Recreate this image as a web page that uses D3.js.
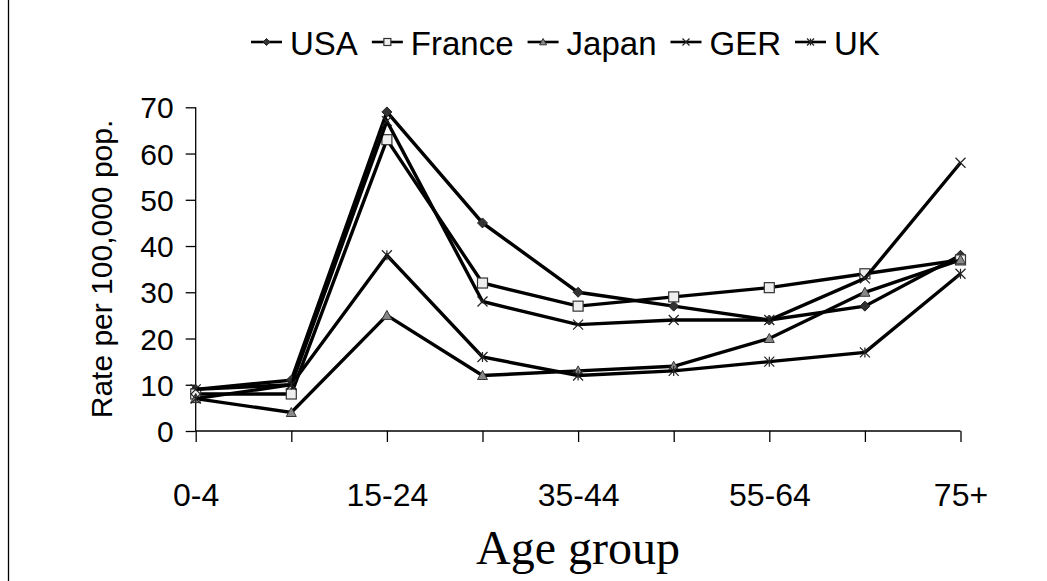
<!DOCTYPE html>
<html><head><meta charset="utf-8">
<script src="https://cdn.jsdelivr.net/npm/d3@7"></script>
<style>body{margin:0;background:#fff}svg{display:block}</style>
</head><body>
<svg id="c" width="1047" height="581"></svg>
<script>
const categories = ["0-4","5-14","15-24","25-34","35-44","45-54","55-64","65-74","75+"];
const shownLabels = ["0-4","15-24","35-44","55-64","75+"];
const seriesNames = ["USA","France","Japan","GER","UK"];
const usa    = [9, 11, 69, 45, 30, 27, 24, 27, 38];
const france = [8, 8, 63, 32, 27, 29, 31, 34, 37];
const japan  = [7, 4, 25, 12, 13, 14, 20, 30, 37];
const ger    = [9, 10, 67, 28, 23, 24, 24, 33, 58];
const uk     = [7, 10, 38, 16, 12, 13, 15, 17, 34];
const yTicks = [0,10,20,30,40,50,60,70];
const yTitle = "Rate per 100,000 pop.";
const xTitle = "Age group";

const seriesVals = [usa, france, japan, ger, uk];
const markers = ["diamond","square","triangle","x","star"];

const svg = d3.select("#c");
const x = d3.scalePoint().domain(categories).range([195.7, 960.5]);
const y = d3.scaleLinear().domain([0,70]).range([431, 107.3]);

// left border line
svg.append("line").attr("x1",8.5).attr("x2",8.5).attr("y1",0).attr("y2",581).attr("stroke","#000").attr("stroke-width",1.3);

// y axis
const yAxis = d3.axisLeft(y).tickValues(yTicks).tickSize(10).tickPadding(12).tickFormat(d3.format("d"));
const gy = svg.append("g").attr("transform","translate(195.7,0)").call(yAxis);
gy.select(".domain").attr("stroke","#000").attr("stroke-width",1.3).attr("d","M0,107.3V431");
gy.selectAll(".tick line").attr("stroke","#000").attr("stroke-width",1.3);
gy.selectAll(".tick text").attr("font-family","Liberation Sans, Arial, sans-serif").attr("font-size",30).attr("fill","#000").attr("dy","0.35em");

// x axis
const xAxis = d3.axisBottom(x).tickSize(11).tickPadding(41).tickFormat(d => shownLabels.includes(d) ? d : "");
const gx = svg.append("g").attr("transform","translate(0,431)").call(xAxis);
gx.select(".domain").attr("stroke","#000").attr("stroke-width",1.3).attr("d","M195.7,0H960.5");
gx.selectAll(".tick line").attr("stroke","#000").attr("stroke-width",1.3);
gx.selectAll(".tick text").attr("font-family","Liberation Sans, Arial, sans-serif").attr("font-size",32).attr("fill","#000");

// titles
svg.append("text").attr("transform","translate(112,269) rotate(-90)").attr("text-anchor","middle")
  .attr("font-family","Liberation Sans, Arial, sans-serif").attr("font-size",30).text(yTitle);
svg.append("text").attr("x",578).attr("y",564).attr("text-anchor","middle")
  .attr("font-family","Liberation Serif, Times New Roman, serif").attr("font-size",48).text(xTitle);

function drawMarker(g, type, cx, cy, s) {
  if (type === "diamond") {
    g.append("path").attr("d",`M${cx},${cy-s}L${cx+s},${cy}L${cx},${cy+s}L${cx-s},${cy}Z`)
      .attr("fill","#333").attr("stroke","#222").attr("stroke-width",1);
  } else if (type === "square") {
    g.append("rect").attr("x",cx-s).attr("y",cy-s).attr("width",2*s).attr("height",2*s)
      .attr("fill","#eee").attr("stroke","#333").attr("stroke-width",1.2);
  } else if (type === "triangle") {
    g.append("path").attr("d",`M${cx},${cy-s}L${cx+s},${cy+s*0.8}L${cx-s},${cy+s*0.8}Z`)
      .attr("fill","#888").attr("stroke","#333").attr("stroke-width",1);
  } else if (type === "x") {
    g.append("path").attr("d",`M${cx-s},${cy-s}L${cx+s},${cy+s}M${cx-s},${cy+s}L${cx+s},${cy-s}`)
      .attr("stroke","#222").attr("stroke-width",1.2).attr("fill","none");
  } else {
    g.append("path").attr("d",`M${cx-s},${cy-s}L${cx+s},${cy+s}M${cx-s},${cy+s}L${cx+s},${cy-s}M${cx},${cy-s}L${cx},${cy+s}`)
      .attr("stroke","#222").attr("stroke-width",1.2).attr("fill","none");
  }
}
const msize = {diamond:5, square:5, triangle:5, x:5, star:5};

const line = d3.line().x((d,i)=>x(categories[i])).y(d=>y(d));
seriesVals.forEach((vals, si) => {
  const g = svg.append("g");
  g.append("path").attr("d", line(vals)).attr("fill","none").attr("stroke","#000").attr("stroke-width",3.4).attr("stroke-linejoin","miter");
  vals.forEach((v,i) => drawMarker(g, markers[si], x(categories[i]), y(v), msize[markers[si]]));
});

// legend
const lg = svg.append("g");
let lx = 251;
const ly = 42;
seriesNames.forEach((name, si) => {
  lg.append("line").attr("x1",lx).attr("x2",lx+31).attr("y1",ly).attr("y2",ly).attr("stroke","#000").attr("stroke-width",2.6);
  drawMarker(lg, markers[si], lx+15.5, ly, 3.5);
  const t = lg.append("text").attr("x",lx+39).attr("y",ly+13).attr("font-family","Liberation Sans, Arial, sans-serif")
    .attr("font-size",33).text(name);
  lx = lx + 39 + t.node().getComputedTextLength() + 14;
});
</script>
</body></html>
